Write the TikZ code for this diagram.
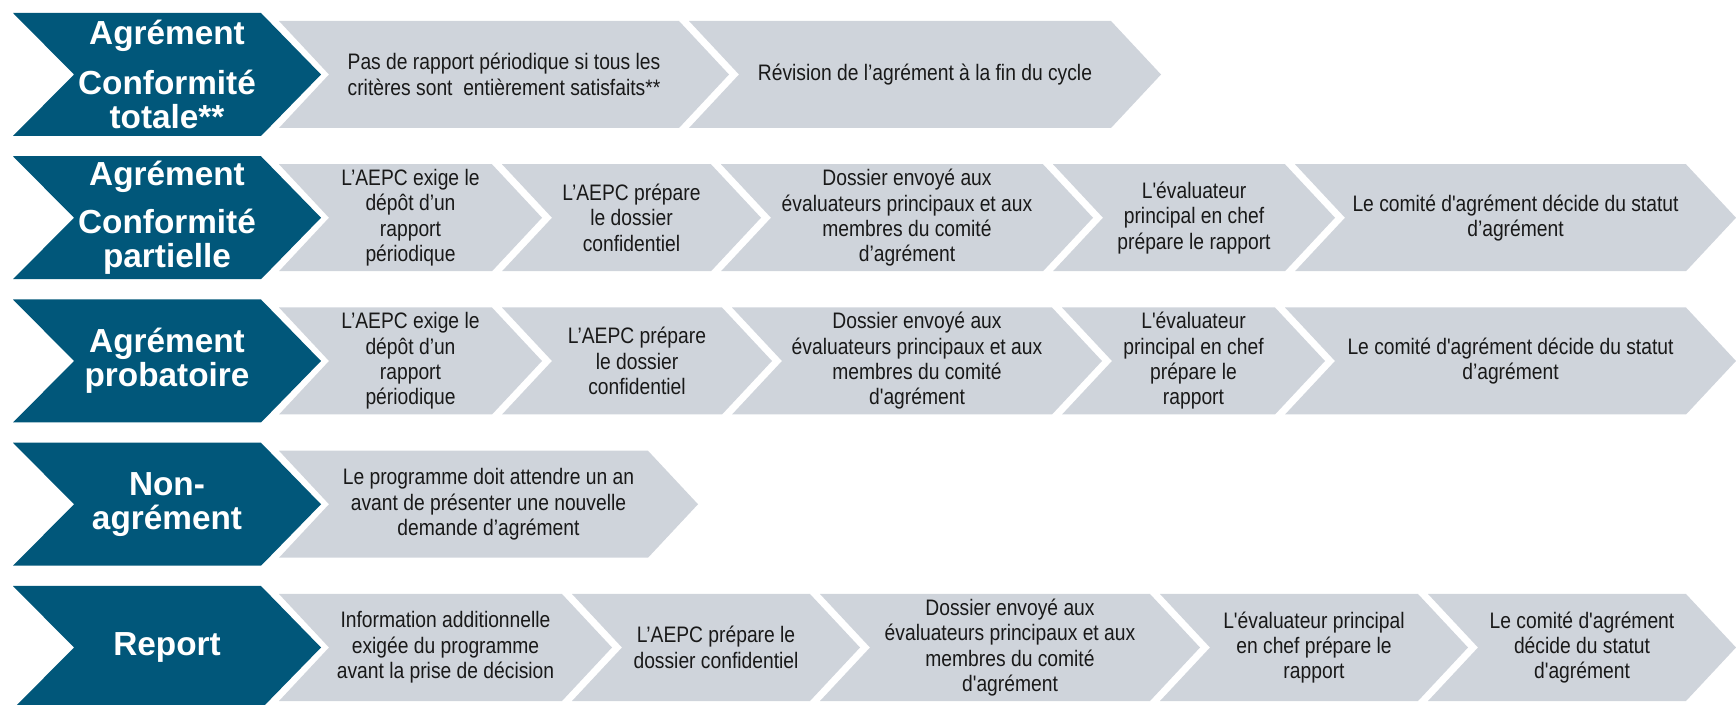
\documentclass[tikz,border=0pt]{standalone}
\usepackage{fontspec}
\setmainfont{Liberation Sans}
\newfontfamily\narrowfont[FakeStretch=0.86]{Liberation Sans}
\definecolor{darkblue}{RGB}{1,87,122}
\definecolor{chevgrey}{RGB}{207,212,219}
\definecolor{txtgrey}{RGB}{25,25,25}
\tikzset{
  greytext/.style={font=\narrowfont\fontsize{16.8}{19}\selectfont, align=center, text=txtgrey, inner sep=0pt},
  darktext/.style={font=\fontsize{25}{25.5}\selectfont\bfseries, align=center, text=white, inner sep=0pt},
}
% grey chevron: #1 left x, #2 tip x, #3 mid y, #4 node name, #5 text
\newcommand\grch[5]{%
  \fill[chevgrey] (#1,#3-53.5) -- (#2-50,#3-53.5) -- (#2,#3) -- (#2-50,#3+53.5) -- (#1,#3+53.5) -- (#1+50,#3) -- cycle;
  \node[greytext] (#4) at ({(#1+#2)/2},#3) {#5};
}
% dark chevron: #1 mid y, #2 node name, #3 text
\newcommand\dkch[3]{%
  \fill[darkblue] (13,#1-61.5) -- (261,#1-61.5) -- (321,#1) -- (261,#1+61.5) -- (13,#1+61.5) -- (74,#1) -- cycle;
  \node[darktext] (#2) at (167,#1) {#3};
}
\begin{document}
\begin{tikzpicture}[x=0.75pt,y=-0.75pt]
\useasboundingbox (0,0) rectangle (1736,705);
% Row 1
\dkch{74.5}{d1}{Agrément\\[12pt]Conformité\\totale**}
\grch{279}{729}{74.5}{r1c1}{Pas de rapport périodique si tous les\\critères sont \ entièrement satisfaits**}
\grch{689}{1161}{74.5}{r1c2}{Révision de l’agrément à la fin du cycle}
% Row 2
\dkch{217.75}{d2}{Agrément\\[11pt]Conformité\\partielle}
\grch{279}{542}{217.75}{r2c1}{L’AEPC exige le\\dépôt d’un\\rapport\\périodique}
\grch{502}{761}{217.75}{r2c2}{L’AEPC prépare\\le dossier\\confidentiel}
\grch{721}{1093}{217.75}{r2c3}{Dossier envoyé aux\\évaluateurs principaux et aux\\membres du comité\\d’agrément}
\grch{1053}{1335}{217.75}{r2c4}{L'évaluateur\\principal en chef\\prépare le rapport}
\grch{1295}{1736}{217.75}{r2c5}{Le comité d'agrément décide du statut\\d’agrément}
% Row 3
\dkch{361}{d3}{Agrément\\probatoire}
\grch{279}{542}{361}{r3c1}{L’AEPC exige le\\dépôt d’un\\rapport\\périodique}
\grch{502}{772}{361}{r3c2}{L’AEPC prépare\\le dossier\\confidentiel}
\grch{732}{1102}{361}{r3c3}{Dossier envoyé aux\\évaluateurs principaux et aux\\membres du comité\\d'agrément}
\grch{1062}{1325}{361}{r3c4}{L'évaluateur\\principal en chef\\prépare le\\rapport}
\grch{1285}{1736}{361}{r3c5}{Le comité d'agrément décide du statut\\d’agrément}
% Row 4
\dkch{504.25}{d4}{Non-\\agrément}
\grch{279}{698}{504.25}{r4c1}{Le programme doit attendre un an\\avant de présenter une nouvelle\\demande d’agrément}
% Row 5
\dkch{647.5}{d5}{Report}
\grch{279}{612}{647.5}{r5c1}{Information additionnelle\\exigée du programme\\avant la prise de décision}
\grch{572}{860}{647.5}{r5c2}{L’AEPC prépare le\\dossier confidentiel}
\grch{820}{1200}{647.5}{r5c3}{Dossier envoyé aux\\évaluateurs principaux et aux\\membres du comité\\d'agrément}
\grch{1160}{1468}{647.5}{r5c4}{L'évaluateur principal\\en chef prépare le\\rapport}
\grch{1428}{1736}{647.5}{r5c5}{Le comité d'agrément\\décide du statut\\d'agrément}
\end{tikzpicture}
\end{document}
